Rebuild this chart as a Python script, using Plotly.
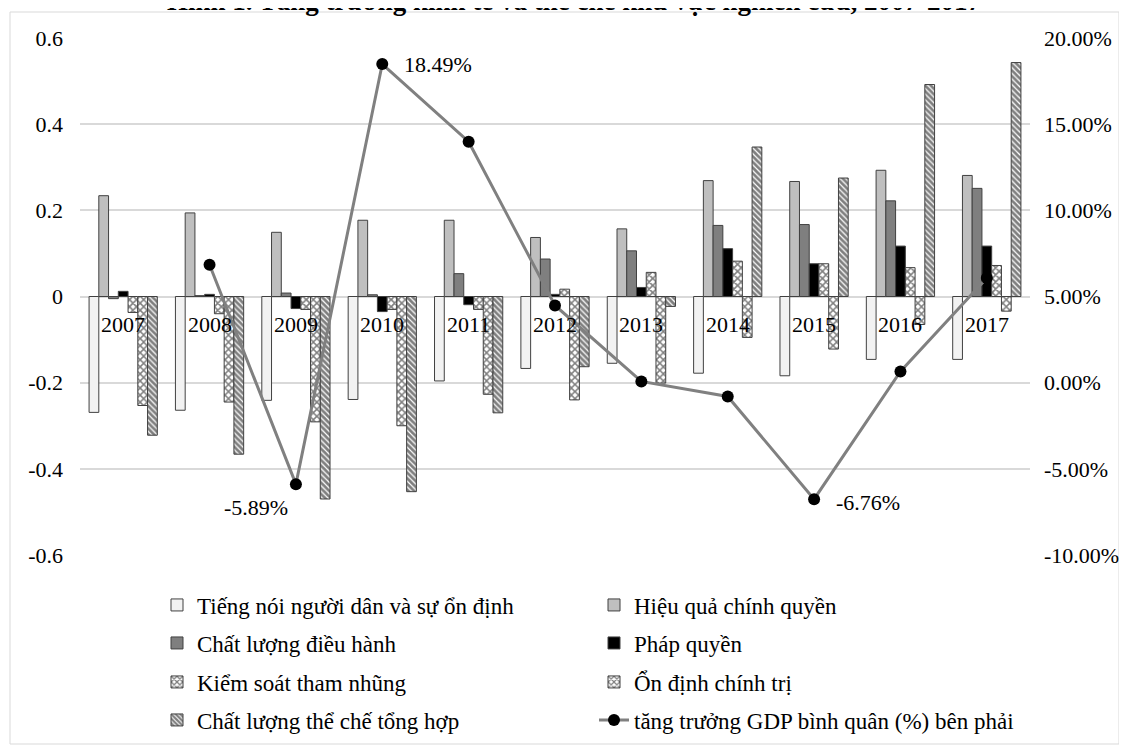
import plotly.graph_objects as go

years = ["2007", "2008", "2009", "2010", "2011", "2012", "2013", "2014", "2015", "2016", "2017"]

tieng_noi = [-0.269, -0.264, -0.241, -0.239, -0.196, -0.167, -0.155, -0.178, -0.184, -0.146, -0.146]
hieu_qua = [0.234, 0.194, 0.149, 0.177, 0.177, 0.137, 0.157, 0.269, 0.267, 0.293, 0.281]
chat_luong_dh = [-0.005, 0.002, 0.008, 0.004, 0.053, 0.087, 0.106, 0.165, 0.167, 0.222, 0.251]
phap_quyen = [0.012, 0.005, -0.028, -0.035, -0.019, 0.005, 0.021, 0.111, 0.076, 0.117, 0.117]
kiem_soat = [-0.037, -0.040, -0.030, -0.030, -0.030, 0.017, 0.056, 0.082, 0.076, 0.067, 0.072]
on_dinh = [-0.253, -0.245, -0.291, -0.300, -0.227, -0.240, -0.201, -0.095, -0.122, -0.065, -0.034]
tong_hop = [-0.322, -0.366, -0.470, -0.453, -0.270, -0.163, -0.023, 0.347, 0.275, 0.492, 0.543]
gdp = [None, 6.84, -5.89, 18.49, 13.98, 4.48, 0.07, -0.80, -6.76, 0.65, 6.07]

left_ticks = [-0.6, -0.4, -0.2, 0, 0.2, 0.4, 0.6]
left_labels = ["-0.6", "-0.4", "-0.2", "0", "0.2", "0.4", "0.6"]
right_ticks = [-10, -5, 0, 5, 10, 15, 20]
right_labels = ["-10.00%", "-5.00%", "0.00%", "5.00%", "10.00%", "15.00%", "20.00%"]

names = [
    "Tiếng nói người dân và sự ổn định",
    "Hiệu quả chính quyền",
    "Chất lượng điều hành",
    "Pháp quyền",
    "Kiểm soát tham nhũng",
    "Ổn định chính trị",
    "Chất lượng thể chế tổng hợp",
    "tăng trưởng GDP bình quân (%) bên phải",
]
title_text = "Hình 1. Tăng trưởng kinh tế và thể chế khu vực nghiên cứu, 2007-2017"

FONT = "Liberation Serif"
FS = 22
FS_LEG = 23

# page geometry (reference pixels); the page body adds an 8px offset
OFF = 8
L, R, T, B = 80, 1030, 38, 555
PW, PH = R - L, B - T
W, H = 1127 - OFF, 746 - OFF


def px_x(px):
    return (px - L) / PW


def px_y(py):
    return (B - py) / PH


series = [tieng_noi, hieu_qua, chat_luong_dh, phap_quyen, kiem_soat, on_dinh, tong_hop]
styles = [
    dict(color="#f2f2f2"),
    dict(color="#bfbfbf"),
    dict(color="#7f7f7f"),
    dict(color="#000000"),
    dict(color="white", pattern=dict(shape="x", fgcolor="black", bgcolor="white", size=5, solidity=0.55)),
    dict(color="white", pattern=dict(shape="x", fgcolor="black", bgcolor="white", size=5, solidity=0.5)),
    dict(color="white", pattern=dict(shape="\\", fgcolor="black", bgcolor="white", size=4, solidity=0.7)),
]

fig = go.Figure()
for i, (vals, st) in enumerate(zip(series, styles)):
    fig.add_trace(go.Bar(
        x=years, y=vals, name=names[i],
        marker=dict(**st, line=dict(color="#404040", width=1)),
        legend="legend" if i // 2 == 0 else f"legend{i // 2 + 1}",
    ))

fig.add_trace(go.Scatter(
    x=years, y=gdp, name=names[7], yaxis="y2", mode="lines+markers",
    line=dict(color="#808080", width=3),
    marker=dict(color="black", size=12),
    legend="legend4",
))

# category labels next to the zero line (annotation x given as category index)
for idx, yr in enumerate(years):
    fig.add_annotation(x=idx, y=0, xref="x", yref="y", text=yr, showarrow=False,
                       xanchor="center", yanchor="top", yshift=-13,
                       font=dict(family=FONT, size=FS, color="black"))

# data labels
label_cfg = {"2009": dict(xanchor="right", xshift=-6, yshift=-23),
             "2010": dict(xanchor="left", xshift=20, yshift=0),
             "2015": dict(xanchor="left", xshift=20, yshift=-3)}
for idx, (yr, v) in enumerate(zip(years, gdp)):
    if yr in label_cfg:
        fig.add_annotation(x=idx, y=v, xref="x", yref="y2", text=f"{v:.2f}%", showarrow=False,
                           yanchor="middle", font=dict(family=FONT, size=FS, color="black"),
                           **label_cfg[yr])

fig.add_annotation(xref="paper", yref="paper", x=px_x(574), y=px_y(18),
                   xanchor="center", yanchor="bottom", showarrow=False,
                   text=f"<b>{title_text}</b>", font=dict(family=FONT, size=27, color="black"))

fig.add_shape(type="rect", xref="paper", yref="paper",
              x0=px_x(10), x1=px_x(1119), y0=px_y(744), y1=px_y(12),
              line=dict(color="#d9d9d9", width=1), layer="below")

legend_common = dict(orientation="h", xanchor="left", yanchor="middle",
                     font=dict(family=FONT, size=FS_LEG, color="black"),
                     entrywidth=392, entrywidthmode="pixels",
                     bgcolor="rgba(0,0,0,0)")
row_y = [605, 643, 682, 720]
legs = {}
for r, py in enumerate(row_y):
    key = "legend" if r == 0 else f"legend{r + 1}"
    legs[key] = dict(legend_common, x=px_x(157), y=px_y(py))

fig.update_layout(
    width=W, height=H,
    margin=dict(l=L - OFF, r=1127 - R, t=T - OFF, b=746 - B, pad=0, autoexpand=False),
    paper_bgcolor="white", plot_bgcolor="white",
    font=dict(family=FONT, size=FS, color="black"),
    barmode="group", bargap=0.21, bargroupgap=0,
    showlegend=True,
    xaxis=dict(type="category", categoryorder="array", categoryarray=years,
               range=[-0.5, len(years) - 0.5], autorange=False,
               showline=False, showgrid=False, ticks="",
               showticklabels=False, zeroline=False, automargin=False),
    yaxis=dict(range=[-0.6, 0.6], autorange=False, tickvals=left_ticks, ticktext=left_labels,
               showgrid=True, gridcolor="#d9d9d9", gridwidth=1.5, zeroline=True,
               zerolinecolor="#d9d9d9", zerolinewidth=1.5, showline=False, ticks="",
               automargin=False, ticklabelstandoff=16,
               tickfont=dict(family=FONT, size=FS, color="black")),
    yaxis2=dict(range=[-10, 20], autorange=False, tickvals=right_ticks, ticktext=right_labels,
                overlaying="y", side="right", showgrid=False, zeroline=False,
                showline=False, ticks="", automargin=False, ticklabelstandoff=13,
                tickfont=dict(family=FONT, size=FS, color="black")),
    **legs,
)

fig.write_html("out.html")
